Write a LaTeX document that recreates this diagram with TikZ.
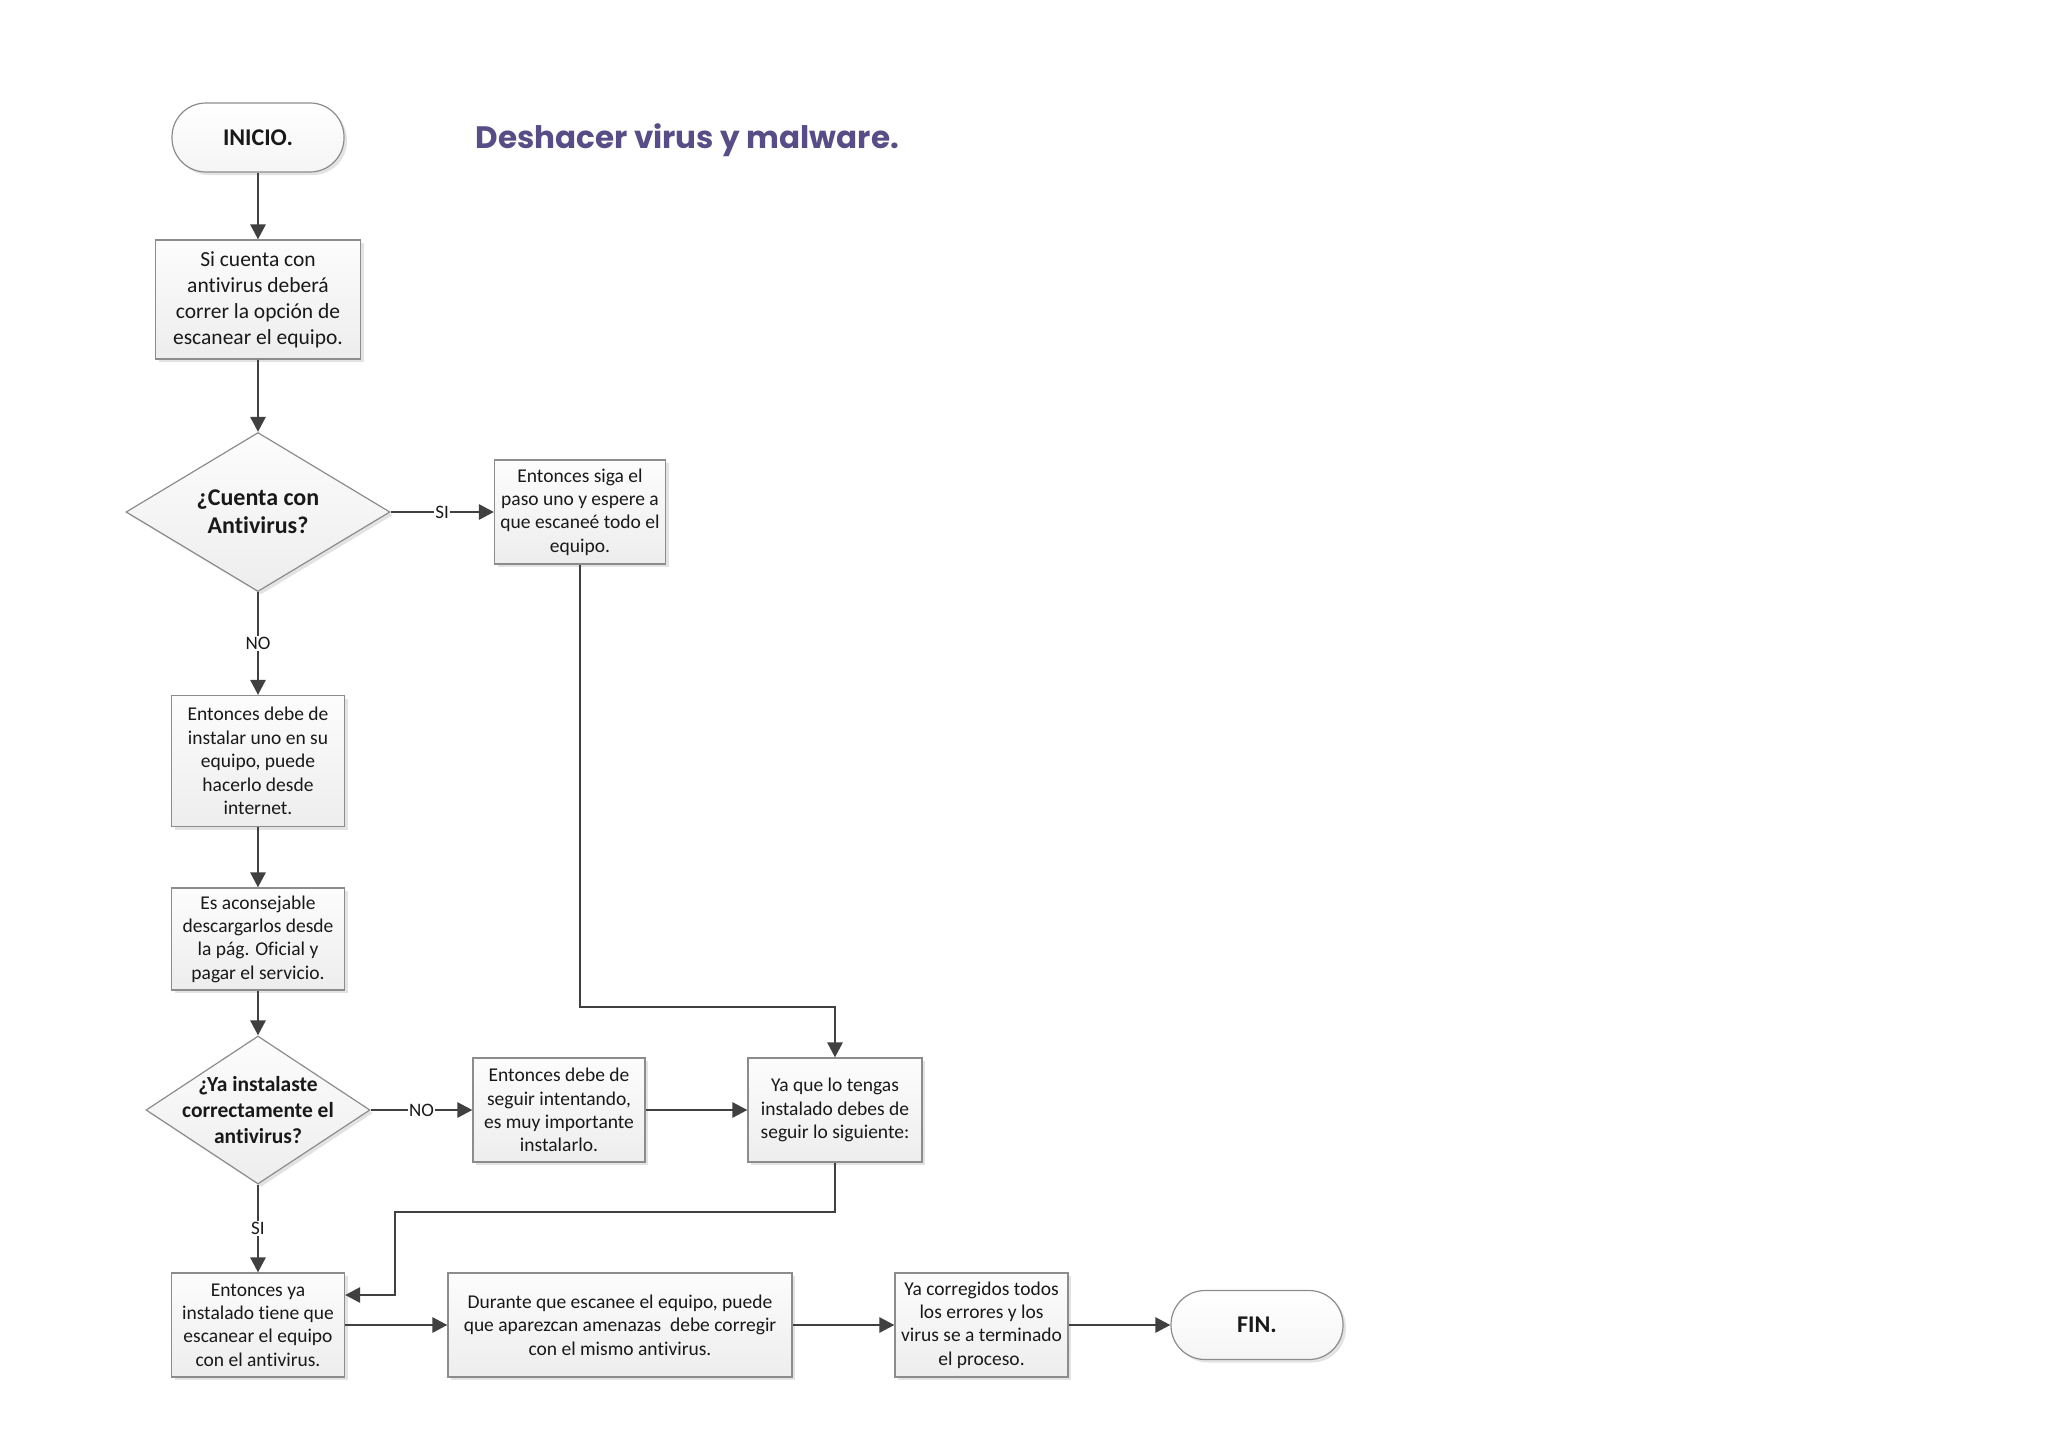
\documentclass[tikz,border=0pt]{standalone}
\usepackage{fontspec}
\setmainfont{Carlito}[Ligatures={NoCommon,TeX}]
\newfontfamily\titlefont{Poppins}
\usetikzlibrary{shapes.geometric,shadows,arrows.meta,calc}
\definecolor{linec}{HTML}{404040}
\definecolor{bordc}{HTML}{8C8C8C}
\definecolor{titlec}{HTML}{594D85}
\tikzset{
  base/.style={draw=bordc, line width=1.2pt, top color=gray!2, bottom color=gray!14,
    drop shadow={opacity=0.22, shadow xshift=3pt, shadow yshift=-3pt},
    text=black!90, align=center, inner sep=0pt},
  procbox/.style={base, rectangle, minimum width=#1, minimum height=104pt,
    font=\fontsize{19.5}{23.4}\selectfont},
  procbox/.default=173pt,
  termbox/.style={base, rectangle, rounded corners=34pt, minimum width=172pt, minimum height=69pt,
    font=\fontsize{24}{28}\selectfont\bfseries, top color=white, bottom color=gray!8},
  decbox/.style={base, diamond, aspect=1.66},
  arr/.style={draw=linec, line width=2.7pt, -{Triangle[length=15pt,width=15pt]}},
  lbl/.style={fill=white, inner sep=1pt, font=\fontsize{19}{22}\selectfont, text=black!90}
}
\begin{document}
\begin{tikzpicture}[x=1pt,y=-1pt]
\useasboundingbox (0,0) rectangle (2048,1448);
\fill[white] (0,0) rectangle (2048,1448);

\node[anchor=base west, text=titlec, font=\titlefont\bfseries\fontsize{31}{36}\selectfont] (title) at (472,148) {Deshacer virus y malware.};

\node[termbox] (inicio) at (258,137.5) {INICIO.};
\node[procbox, minimum width=205pt, minimum height=119pt, font=\fontsize{21.5}{26}\selectfont] (b1) at (258,299.5)
  {Si cuenta con\\antivirus deberá\\correr la opción de\\escanear el equipo.};
\node[decbox, minimum width=264pt, minimum height=159pt,
  label={[align=center, font=\fontsize{24}{28}\selectfont\bfseries, text=black!90]center:¿Cuenta con\\Antivirus?}] (d1) at (258,512) {};
\node[procbox=171pt] (b2) at (580,512)
  {Entonces siga el\\paso uno y espere a\\que escaneé todo el\\equipo.};
\node[procbox, minimum height=131pt] (b3) at (258,761)
  {Entonces debe de\\instalar uno en su\\equipo, puede\\hacerlo desde\\internet.};
\node[procbox, minimum height=102pt] (b4) at (258,939)
  {Es aconsejable\\descargarlos desde\\la pág. Oficial y\\pagar el servicio.};
\node[decbox, aspect=1.51, minimum width=224pt, minimum height=148pt,
  label={[align=center, font=\fontsize{21.5}{26}\selectfont\bfseries, text=black!90]center:¿Ya instalaste\\correctamente el\\antivirus?}] (d2) at (258,1110) {};
\node[procbox=172pt] (b5) at (559,1110)
  {Entonces debe de\\seguir intentando,\\es muy importante\\instalarlo.};
\node[procbox=174pt] (b6) at (835,1110)
  {Ya que lo tengas\\instalado debes de\\seguir lo siguiente:};
\node[procbox] (b7) at (258,1325)
  {Entonces ya\\instalado tiene que\\escanear el equipo\\con el antivirus.};
\node[procbox=344pt] (b8) at (620,1325)
  {Durante que escanee el equipo, puede\\que aparezcan amenazas\ \ debe corregir\\con el mismo antivirus.};
\node[procbox] (b9) at (981.5,1325)
  {Ya corregidos todos\\los errores y los\\virus se a terminado\\el proceso.};
\node[termbox] (fin) at (1257,1325) {FIN.};

\coordinate (j1) at (580,1007);
\coordinate (j2) at (395,1212);
\coordinate (j3) at (395,1295);

\draw[arr] (inicio) -- (b1);
\draw[arr] (b1) -- (d1);
\draw[arr] (d1.east) -- node[lbl]{SI} (b2.west);
\draw[arr] (d1.south) -- node[lbl]{NO} (b3.north);
\draw[arr] (b3) -- (b4);
\draw[arr] (b4) -- (d2.north);
\draw[arr] (d2.east) -- node[lbl]{NO} (b5.west);
\draw[arr] (b5) -- (b6);
\draw[arr] (b2.south) -- (j1) -| (b6.north);
\draw[arr] (b6.south) |- (j2) -- (j3) -- (b7.east |- j3);
\draw[arr] (d2.south) -- node[lbl]{SI} (b7.north);
\draw[arr] (b7) -- (b8);
\draw[arr] (b8) -- (b9);
\draw[arr] (b9) -- (fin);
\end{tikzpicture}
\end{document}
